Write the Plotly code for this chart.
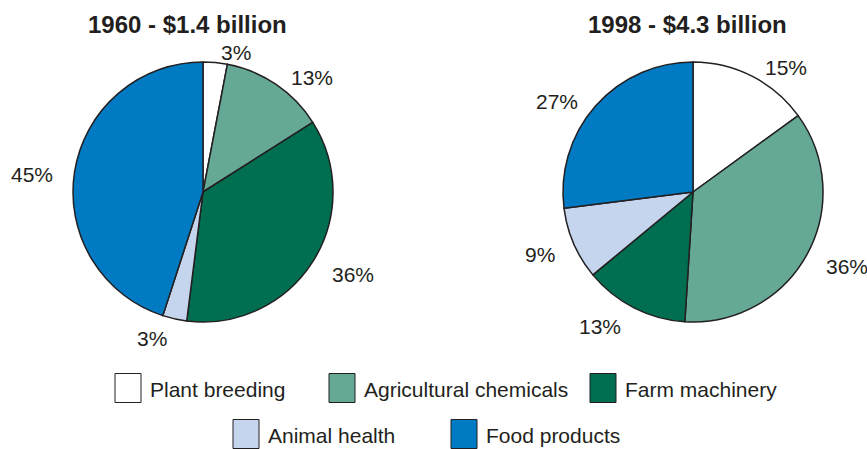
import math
import plotly.graph_objects as go

categories = ["Plant breeding", "Agricultural chemicals", "Farm machinery", "Animal health", "Food products"]
values_1960 = [3, 13, 36, 3, 45]
values_1998 = [15, 36, 13, 9, 27]
titles = ["1960 - $1.4 billion", "1998 - $4.3 billion"]
colors = ["#ffffff", "#66a896", "#006e50", "#c5d5ee", "#007ac2"]

W, H = 867, 449
TXT = "#231f20"
FONT = "Liberation Sans, Arial, sans-serif"
RADIUS = 130
LABEL_R = 145
LABEL_SIZE = 21

def px_dom(cx, cy, r):
    return dict(x=[(cx - r) / W, (cx + r) / W], y=[1 - (cy + r) / H, 1 - (cy - r) / H])

fig = go.Figure()
annotations = []
pies = [(values_1960, 203, 192), (values_1998, 693, 192)]
for vals, cx, cy in pies:
    fig.add_trace(go.Pie(
        labels=categories, values=vals, sort=False, direction="clockwise", rotation=0,
        marker=dict(colors=colors, line=dict(color=TXT, width=1.5)),
        textinfo="none", domain=px_dom(cx, cy, RADIUS), showlegend=False,
        hoverinfo="label+value",
    ))
    total = sum(vals)
    cum = 0
    for v in vals:
        th = 2 * math.pi * (cum + v / 2) / total
        cum += v
        s, c = math.sin(th), math.cos(th)
        txt = "%d%%" % v
        w = LABEL_SIZE * (0.556 * (len(txt) - 1) + 0.889)
        x = cx + LABEL_R * s + math.copysign(1.3 * w / 2, s)
        y = cy - LABEL_R * c + 5
        annotations.append(dict(text=txt, x=x / W, y=1 - y / H, xref="paper", yref="paper",
                                xanchor="center", yanchor="middle", showarrow=False,
                                font=dict(size=LABEL_SIZE, color=TXT, family=FONT)))

for t, cx in zip(titles, [187, 687]):
    annotations.append(dict(text="<b>%s</b>" % t, x=cx / W, y=1 - 24 / H, xref="paper", yref="paper",
                            xanchor="center", yanchor="middle", showarrow=False,
                            font=dict(size=24, color=TXT, family=FONT)))

# manual legend layout: (category index, swatch left x, row center y)
legend_layout = [(0, 115, 388), (1, 329, 388), (2, 590, 388), (3, 233, 434), (4, 451, 434)]
shapes = []
sw, sh = 26, 29
for i, x0, yc in legend_layout:
    shapes.append(dict(type="rect", xref="paper", yref="paper",
                       x0=x0 / W, x1=(x0 + sw) / W, y0=1 - (yc + sh / 2) / H, y1=1 - (yc - sh / 2) / H,
                       fillcolor=colors[i], line=dict(color=TXT, width=1)))
    annotations.append(dict(text=categories[i], x=(x0 + sw + 7) / W, y=1 - (yc + 1) / H,
                            xref="paper", yref="paper", xanchor="left", yanchor="middle",
                            showarrow=False, font=dict(size=21, color=TXT, family=FONT)))

fig.update_layout(width=W, height=H, margin=dict(l=0, r=0, t=0, b=0),
                  paper_bgcolor="white", plot_bgcolor="white",
                  annotations=annotations, shapes=shapes)
fig.write_html("out.html")
